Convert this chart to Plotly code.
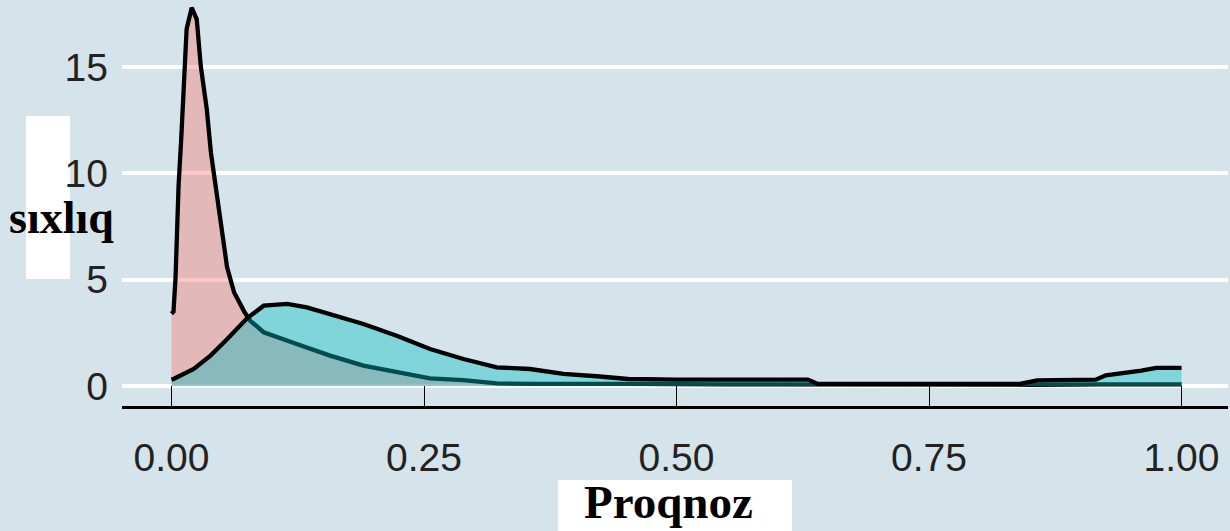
import plotly.graph_objects as go

# ---- data ----
x_red = [0.0, 0.002, 0.004, 0.007, 0.0096, 0.0116, 0.015, 0.020, 0.025, 0.029,
         0.035, 0.039, 0.0435, 0.050, 0.055, 0.062, 0.072, 0.078, 0.0913, 0.124,
         0.157, 0.19, 0.223, 0.256, 0.289, 0.322, 0.36, 0.40, 0.45, 0.55, 0.63,
         0.75, 0.85, 0.92, 1.0]
dens_red = [3.4, 3.5, 5.1, 9.4, 11.6, 13.8, 16.8, 17.8, 17.25, 15.05,
            13.0, 11.0, 9.4, 7.2, 5.6, 4.4, 3.5, 3.07, 2.53, 1.98,
            1.43, 0.96, 0.64, 0.36, 0.28, 0.12, 0.1, 0.12, 0.1, 0.08, 0.07,
            0.05, 0.06, 0.08, 0.08]

x_teal = [0.0, 0.002, 0.022, 0.0386, 0.055, 0.068, 0.075, 0.0913, 0.1145, 0.134,
          0.157, 0.19, 0.223, 0.256, 0.289, 0.322, 0.355, 0.388, 0.421, 0.452,
          0.50, 0.56, 0.63, 0.64, 0.75, 0.84, 0.857, 0.915, 0.925, 0.945, 0.96,
          0.975, 1.0]
dens_teal = [0.3, 0.33, 0.8, 1.43, 2.2, 2.85, 3.2, 3.78, 3.86, 3.7,
             3.39, 2.92, 2.37, 1.74, 1.27, 0.88, 0.8, 0.57, 0.46, 0.33,
             0.3, 0.3, 0.3, 0.1, 0.08, 0.1, 0.27, 0.3, 0.5, 0.61, 0.72,
             0.85, 0.85]

x_tickvals = [0.0, 0.25, 0.5, 0.75, 1.0]
x_ticktext = ["0.00", "0.25", "0.50", "0.75", "1.00"]
y_tickvals = [0, 5, 10, 15]
y_ticktext = ["0", "5", "10", "15"]

x_title = "Proqnoz"
y_title = "sıxlıq"

BG = "#d5e4eb"
TICKFONT = "Liberation Sans Narrow, Arial Narrow, Liberation Sans, Arial, sans-serif"
TITLEFONT = "Liberation Serif, Times New Roman, serif"

fig = go.Figure()
fig.add_trace(go.Scatter(
    x=x_red, y=dens_red, mode="lines", fill="tozeroy",
    fillcolor="rgba(248,118,109,0.4)",
    line=dict(color="black", width=4.3), showlegend=False, hoverinfo="skip"))
fig.add_trace(go.Scatter(
    x=x_teal, y=dens_teal, mode="lines", fill="tozeroy",
    fillcolor="rgba(0,191,196,0.4)",
    line=dict(color="black", width=4.3), showlegend=False, hoverinfo="skip"))

L, T, W, H = 122, 0, 1106, 406  # plot area in pixels

def px_x(px):
    return (px - L) / W

def px_y(py):
    return (T + H - py) / H

fig.update_layout(
    width=1230, height=531, autosize=False,
    margin=dict(l=L, r=1230 - L - W, t=T, b=531 - T - H, pad=0),
    paper_bgcolor=BG, plot_bgcolor=BG,
    xaxis=dict(range=[-0.049, 1.046], tickvals=x_tickvals, ticktext=x_ticktext,
               showgrid=False, zeroline=False, showline=True, linecolor="black",
               linewidth=3, ticks="inside", ticklen=20, tickwidth=1.3,
               tickcolor="black", ticklabelstandoff=15,
               tickfont=dict(family=TICKFONT, size=39, color="#222222")),
    yaxis=dict(range=[-0.94, 18.16], tickvals=y_tickvals, ticktext=y_ticktext,
               showgrid=True, gridcolor="white", gridwidth=4, zeroline=False,
               showline=False, ticks="", ticklabelstandoff=13,
               tickfont=dict(family=TICKFONT, size=39, color="#222222")),
    shapes=[
        dict(type="rect", xref="paper", yref="paper", layer="below",
             x0=px_x(26), x1=px_x(70), y0=px_y(279), y1=px_y(116),
             fillcolor="white", line=dict(width=0)),
        dict(type="rect", xref="paper", yref="paper", layer="below",
             x0=px_x(558), x1=px_x(792), y0=px_y(531), y1=px_y(480),
             fillcolor="white", line=dict(width=0)),
    ],
    annotations=[
        dict(text="<b>%s</b>" % y_title, xref="paper", yref="paper",
             x=px_x(61.5), y=px_y(217), xanchor="center", yanchor="middle",
             showarrow=False, font=dict(family=TITLEFONT, size=46, color="black")),
        dict(text="<b>%s</b>" % x_title, xref="paper", yref="paper",
             x=px_x(668), y=px_y(502), xanchor="center", yanchor="middle",
             showarrow=False, font=dict(family=TITLEFONT, size=47, color="black")),
    ],
)

fig.write_html("out.html")
